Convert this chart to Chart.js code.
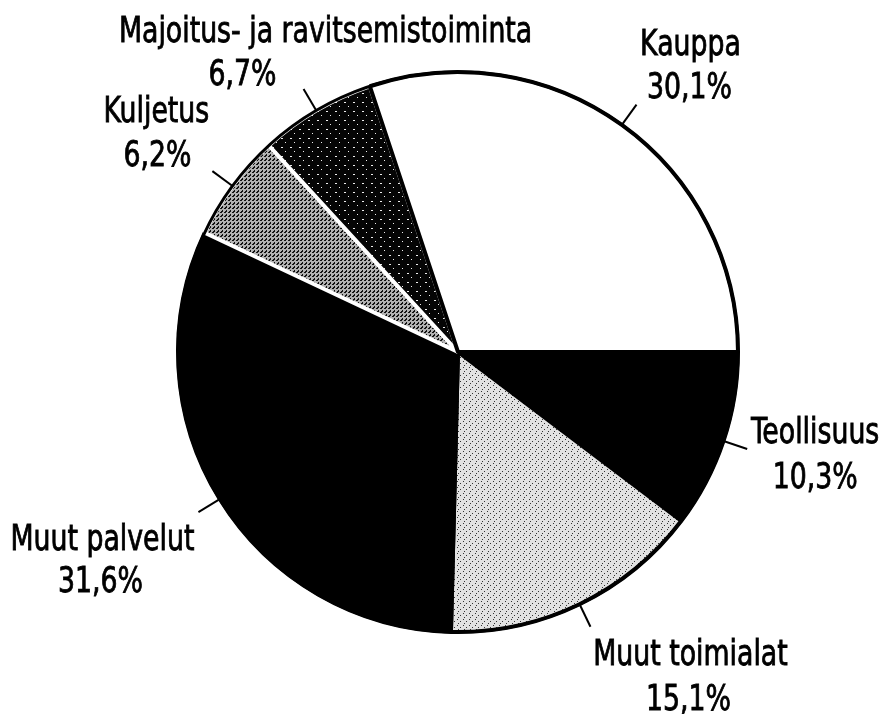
<html>

<head>
    <title>Toimialat</title>
    <script src="https://cdn.jsdelivr.net/npm/chart.js@4"></script>
    <style>
        body { margin: 0; background: #fff; }
        #wrap { width: 889px; height: 714px; }
    </style>
</head>

<body>
    <div id="wrap"><canvas id="pieChart"></canvas></div>
    <script>
        var labels = ["Teollisuus", "Muut toimialat", "Muut palvelut", "Kuljetus", "Majoitus- ja ravitsemistoiminta", "Kauppa"];
        var shares = [10.3, 15.1, 31.6, 6.2, 6.7, 30.1];

        // where the two text lines sit, relative to the end of each leader line [dx1, dy1, dx2, dy2]
        var labelOffsets = [
            [68, -6, 68, 39],
            [100, 38, 98, 83],
            [-96, 38, -98, 80],
            [-56, -49, -55, -5],
            [22, -47, -61, -4],
            [54, -50, 53, -7]
        ];

        function makePattern(size, bg, fg, dots) {
            var c = document.createElement("canvas");
            c.width = size;
            c.height = size;
            var g = c.getContext("2d");
            g.fillStyle = bg;
            g.fillRect(0, 0, size, size);
            g.fillStyle = fg;
            dots.forEach(d => g.fillRect(d[0], d[1], d[2], d[3]));
            return g.createPattern(c, "repeat");
        }

        var lightDots = makePattern(6, "#e2e2e2", "#333", [[1, 1, 1, 1], [4, 3, 1, 1], [2, 5, 1, 1]]);
        var greyDots = makePattern(4, "#b0b0b0", "#111", [[0, 0, 2, 1], [2, 2, 1, 2], [1, 3, 1, 1]]);
        var darkDots = makePattern(9, "#050505", "#eee", [[2, 3, 2, 1], [6, 7, 1, 1]]);

        var fills = ["#000000", lightDots, "#000000", greyDots, darkDots, "#ffffff"];
        var borders = ["#000", "#000", "#000", "#fff", "#fff", "#000"];

        function drawText(ctx, text, x, y) {
            // the original lettering is a condensed face, so squeeze the installed one a bit
            ctx.save();
            ctx.translate(x, y);
            ctx.scale(0.85, 1);
            ctx.fillText(text, 0, 0);
            ctx.strokeText(text, 0, 0);
            ctx.restore();
        }

        var labelPlugin = {
            id: "sliceLabels",
            afterDatasetsDraw: function(chart) {
                var ctx = chart.ctx;
                var arcs = chart.getDatasetMeta(0).data;
                var cx = arcs[0].x, cy = arcs[0].y, r = arcs[0].outerRadius;
                ctx.save();
                ctx.strokeStyle = "#000";
                ctx.lineWidth = 3;
                ctx.beginPath();
                ctx.arc(cx, cy, r, 0, Math.PI * 2);
                ctx.stroke();

                ctx.font = '35px "DejaVu Sans Condensed", "DejaVu Sans", sans-serif';
                ctx.fillStyle = "#000";
                ctx.textAlign = "center";
                ctx.textBaseline = "alphabetic";
                arcs.forEach((arc, i) => {
                    var a = (arc.startAngle + arc.endAngle) / 2;
                    var x0 = cx + Math.cos(a) * r, y0 = cy + Math.sin(a) * r;
                    var x1 = cx + Math.cos(a) * (r + 25), y1 = cy + Math.sin(a) * (r + 25);
                    ctx.lineWidth = 2;
                    ctx.beginPath();
                    ctx.moveTo(x0, y0);
                    ctx.lineTo(x1, y1);
                    ctx.stroke();
                    ctx.lineWidth = 0.8;
                    var o = labelOffsets[i];
                    drawText(ctx, labels[i], x1 + o[0], y1 + o[1]);
                    drawText(ctx, shares[i].toFixed(1).replace(".", ",") + "%", x1 + o[2], y1 + o[3]);
                });
                ctx.restore();
            }
        };

        var ctx1 = document.getElementById("pieChart");
        var pieChart = new Chart(ctx1, {
            type: 'pie',
            data: {
                labels: labels,
                datasets: [{
                    data: shares,
                    backgroundColor: fills,
                    borderColor: borders,
                    borderWidth: 4
                }]
            },
            options: {
                responsive: true,
                maintainAspectRatio: false,
                animation: false,
                events: [],
                rotation: 90,
                layout: { padding: { top: 70, bottom: 80, left: 176, right: 149 } },
                plugins: { legend: { display: false }, tooltip: { enabled: false } }
            },
            plugins: [labelPlugin]
        });
    </script>
</body>

</html>
